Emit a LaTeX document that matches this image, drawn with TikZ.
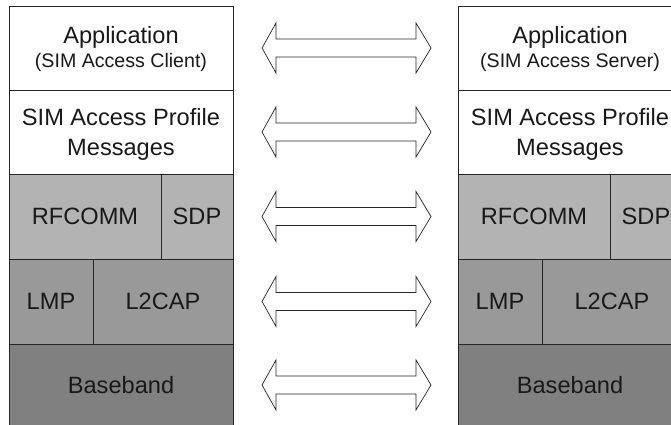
\documentclass[tikz,border=0pt]{standalone}
\usepackage{fontspec}
\setmainfont{Liberation Sans}
\begin{document}
\begin{tikzpicture}[x=1pt,y=-1pt,
  box/.style={draw=black!85,line width=0.8pt,inner sep=0pt,anchor=center,
    font=\fontsize{23.6}{30}\selectfont,text=black!90},
  big/.style={inner sep=0pt,anchor=base,font=\fontsize{23.6}{30}\selectfont,text=black!90},
  small/.style={inner sep=0pt,anchor=base,font=\fontsize{19.6}{24}\selectfont,text=black!90},
  arr/.style={draw=black!85,line width=0.7pt,fill=white,line join=miter}]
\useasboundingbox (0,0) rectangle (671,425);
\clip (0,0) rectangle (671,425);
\definecolor{gA}{RGB}{179,179,179}
\definecolor{gB}{RGB}{153,153,153}
\definecolor{gC}{RGB}{128,128,128}
\foreach \dx/\s/\sub in {0/L/Client,449/R/Server}{
  \begin{scope}[xshift=\dx pt]
  \node[box,minimum width=224,minimum height=84,fill=white] (app\s) at (121,48) {};
  \node[big] (appt\s) at (121,44) {Application};
  \node[small] (apps\s) at (121,68) {(SIM Access \sub)};
  \node[box,minimum width=224,minimum height=84,fill=white] (sap\s) at (121,132) {};
  \node[big] (sapa\s) at (121,125) {SIM Access Profile};
  \node[big] (sapb\s) at (121,155) {Messages};
  \node[box,minimum width=152,minimum height=85,fill=gA] (rf\s) at (85,216.5) {RFCOMM};
  \node[box,minimum width=72,minimum height=85,fill=gA] (sdp\s) at (197,216.5) {SDP};
  \node[box,minimum width=84,minimum height=85,fill=gB] (lmp\s) at (51,301.5) {LMP};
  \node[box,minimum width=140,minimum height=85,fill=gB] (l2\s) at (163,301.5) {L2CAP};
  \node[box,minimum width=224,minimum height=82,fill=gC] (bb\s) at (121,385) {Baseband};
  \end{scope}
}
\foreach \y in {48,132,216.5,301.5,385}{
  \draw[arr] (262,\y) -- (276,\y-25) -- (276,\y-9) -- (416,\y-9) -- (416,\y-25)
    -- (431,\y) -- (416,\y+25) -- (416,\y+9) -- (276,\y+9) -- (276,\y+25) -- cycle;
}
\end{tikzpicture}
\end{document}
